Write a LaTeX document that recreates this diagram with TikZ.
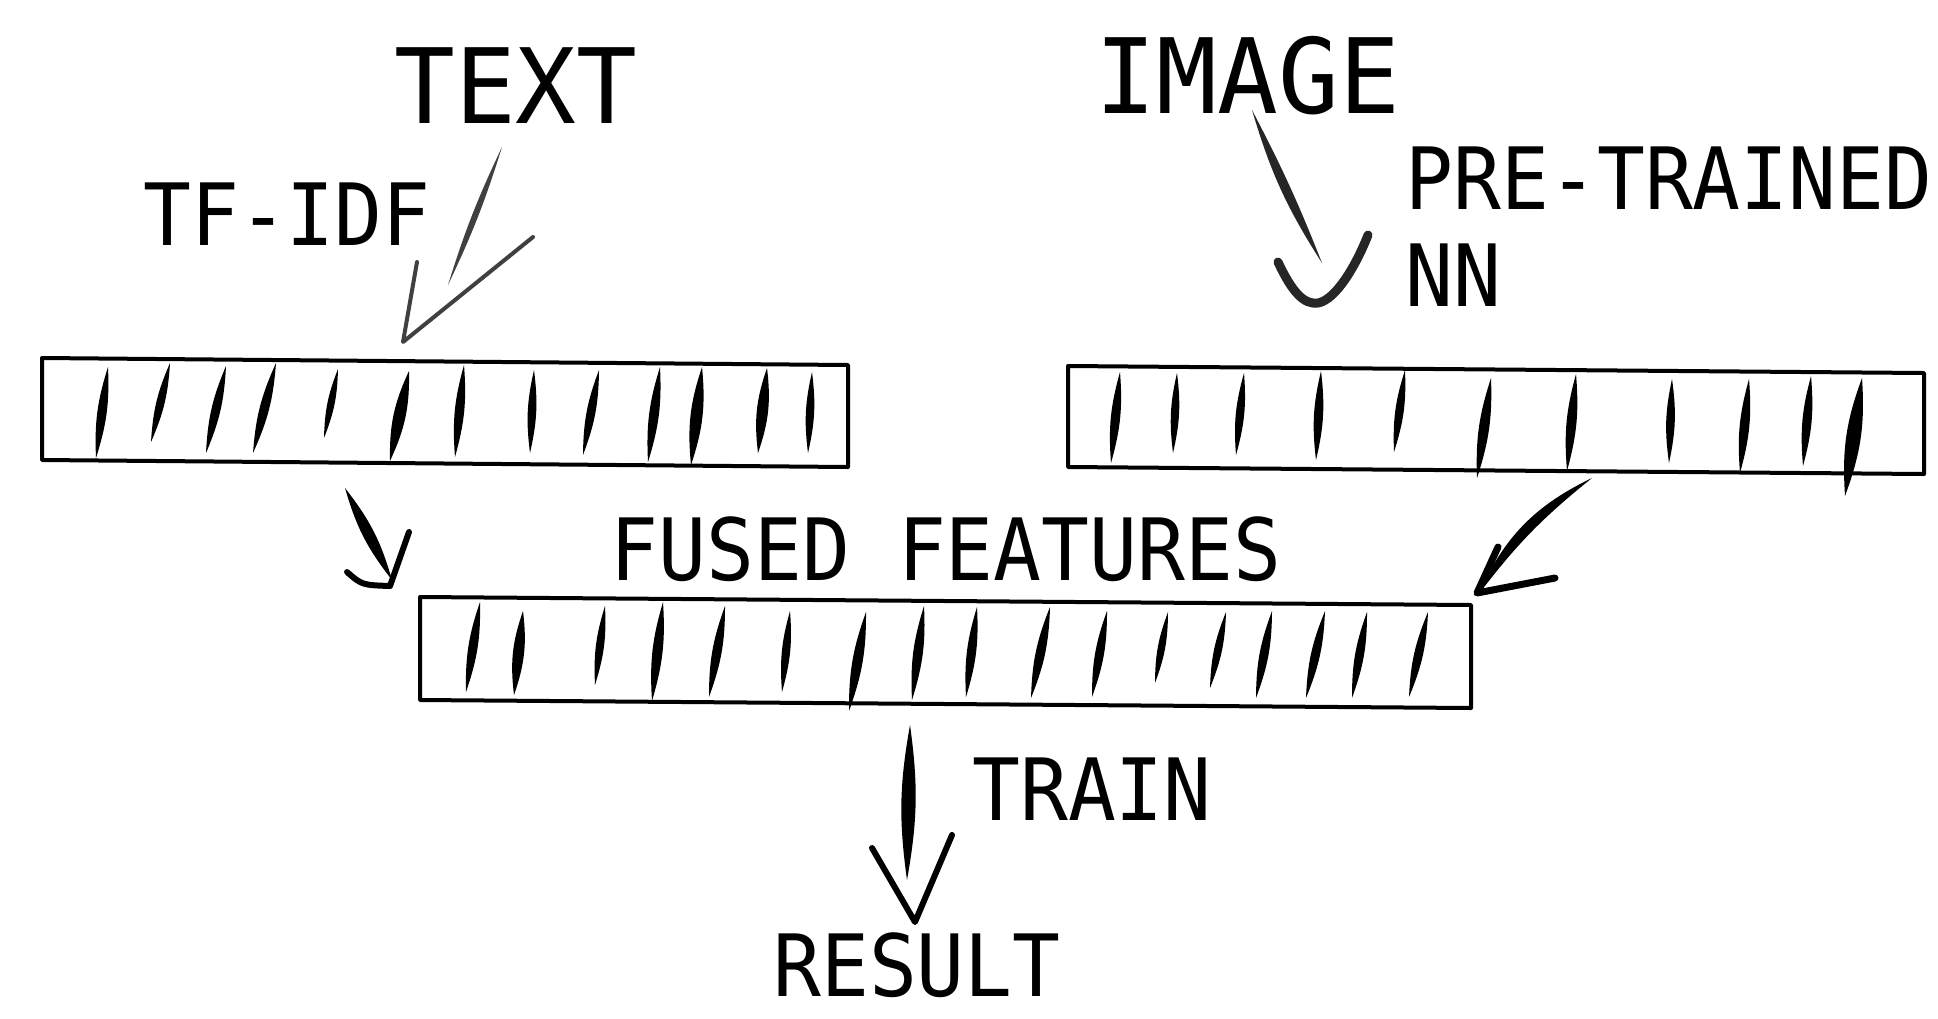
\documentclass[tikz,border=0pt]{standalone}
\usepackage{fontspec}
\setmonofont{DejaVu Sans Mono}
\newcommand\tk[3][10]{\fill (#2) to[bend left=#1] (#3) to[bend left=#1] (#2);}
\newcommand\tallb[1]{\scalebox{1}[1.03]{#1}}
\newcommand\talls[1]{\scalebox{1}[1.08]{#1}}
\begin{document}
\begin{tikzpicture}[x=0.5pt,y=-0.5pt,
  big/.style={font=\ttfamily\fontsize{50.5}{52}\selectfont, inner sep=0pt, anchor=base},
  lbl/.style={font=\ttfamily\fontsize{39.8}{41}\selectfont, inner sep=0pt, anchor=base},
  lblw/.style={lbl, anchor=base west},
  boxline/.style={line width=2pt, line join=round},
  head/.style={line width=3pt, line cap=round, line join=round},
]
\fill[white] (0,0) rectangle (1938,1018);
\useasboundingbox (0,0) rectangle (1938,1018);

% texts
\node[big] (text) at (516,123) {\tallb{TEXT}};
\node[big] (image) at (1248,113) {\tallb{IMAGE}};
\node[lbl] (tfidf) at (287,245) {\talls{TF-IDF}};
\node[lblw] (pre) at (1405,209) {\talls{PRE-TRAINED}};
\node[lblw] (nn) at (1405,306) {\talls{NN}};
\node[lbl] (fused) at (946,580) {\talls{FUSED FEATURES}};
\node[lbl] (train) at (1092,820) {\talls{TRAIN}};
\node[lbl] (result) at (917,996) {\talls{RESULT}};

% boxes
\coordinate (b1a) at (42,358);  \coordinate (b1b) at (848,365);
\coordinate (b1c) at (848,467); \coordinate (b1d) at (42,460);
\coordinate (b2a) at (1068,366);  \coordinate (b2b) at (1924,373);
\coordinate (b2c) at (1924,474);  \coordinate (b2d) at (1068,467);
\coordinate (b3a) at (420,597);  \coordinate (b3b) at (1471,605);
\coordinate (b3c) at (1471,708); \coordinate (b3d) at (420,700);
\draw[boxline] (b1a) -- (b1b) -- (b1c) -- (b1d) -- cycle;
\draw[boxline] (b2a) -- (b2b) -- (b2c) -- (b2d) -- cycle;
\draw[boxline] (b3a) -- (b3b) -- (b3c) -- (b3d) -- cycle;

% ticks box 1
\tk{96,458}{108,367}
\tk{151,442}{170,363}
\tk{206,453}{226,366}
\tk{253,453}{276,363}
\tk{324,438}{338,369}
\tk[13]{390,461}{409,371}
\tk{455,457}{464,365}
\tk{530,453}{534,370}
\tk{583,455}{599,370}
\tk{648,462}{660,367}
\tk[12]{691,465}{702,367}
\tk[13]{758,453}{767,368}
\tk{808,453}{812,372}

% ticks box 2
\tk{1111,463}{1120,372}
\tk{1173,453}{1177,373}
\tk{1236,455}{1244,373}
\tk{1316,460}{1321,371}
\tk{1394,452}{1405,370}
\tk{1477,478}{1491,378}
\tk{1567,471}{1576,374}
\tk{1669,463}{1672,379}
\tk{1740,473}{1749,379}
\tk{1803,466}{1811,376}
\tk[12]{1845,496}{1862,378}

% ticks box 3
\tk{466,692}{480,602}
\tk[13]{514,695}{523,611}
\tk{595,685}{605,606}
\tk{652,701}{663,602}
\tk{709,697}{725,606}
\tk{782,692}{790,611}
\tk{849,711}{866,612}
\tk{912,700}{924,606}
\tk{966,697}{977,607}
\tk{1031,698}{1050,607}
\tk{1092,697}{1107,611}
\tk{1155,683}{1168,612}
\tk{1210,688}{1226,612}
\tk{1256,698}{1272,611}
\tk{1306,698}{1325,611}
\tk{1352,698}{1367,612}
\tk{1409,697}{1428,612}

% arrow TEXT -> box1 (TF-IDF)
\coordinate (t1) at (502,147); \coordinate (t2) at (448,285);
\coordinate (th1) at (417,262); \coordinate (tap) at (403,342); \coordinate (th2) at (533,237);
\fill[black!75] (t1) to[bend left=4] (t2) to[bend left=4] (t1);
\draw[head, line width=2pt, black!75] (th1) -- (tap) -- (th2);

% arrow IMAGE -> box2 (pre-trained NN)
\coordinate (i1) at (1252,110); \coordinate (i2) at (1322,263);
\coordinate (ih1) at (1278,262); \coordinate (iap) at (1318,303); \coordinate (ih2) at (1368,235);
\fill[black!85] (i1) to[bend right=8] (i2) to[bend right=3] (i1);
\draw[head, line width=4.5pt, black!85] (ih1) .. controls (1292,292) and (1304,305) .. (iap) .. controls (1335,300) and (1355,268) .. (ih2);

% arrow box1 -> box3
\coordinate (l1) at (345,488); \coordinate (l2) at (392,580);
\coordinate (lh1) at (347,572); \coordinate (lap) at (390,586); \coordinate (lh2) at (409,532);
\fill (l1) to[bend left=11] (l2) to[bend left=11] (l1);
\draw[head] (lh1) .. controls (362,585) .. (lap) -- (lh2);

% arrow box2 -> box3
\coordinate (r1) at (1592,478); \coordinate (r2) at (1478,595);
\coordinate (rh1) at (1498,547); \coordinate (rap) at (1477,593); \coordinate (rh2) at (1555,578);
\fill (r1) to[bend right=20] (r2) to[bend left=7] (r1);
\draw[head, line width=3.5pt] (rh1) -- (rap) -- (rh2);

% arrow box3 -> result (train)
\coordinate (d1) at (910,725); \coordinate (d2) at (907,880);
\coordinate (dh1) at (872,848); \coordinate (dap) at (915,922); \coordinate (dh2) at (952,835);
\fill (d1) to[bend left=9] (d2) to[bend left=9] (d1);
\draw[head] (dh1) -- (dap) -- (dh2);
\end{tikzpicture}
\end{document}
